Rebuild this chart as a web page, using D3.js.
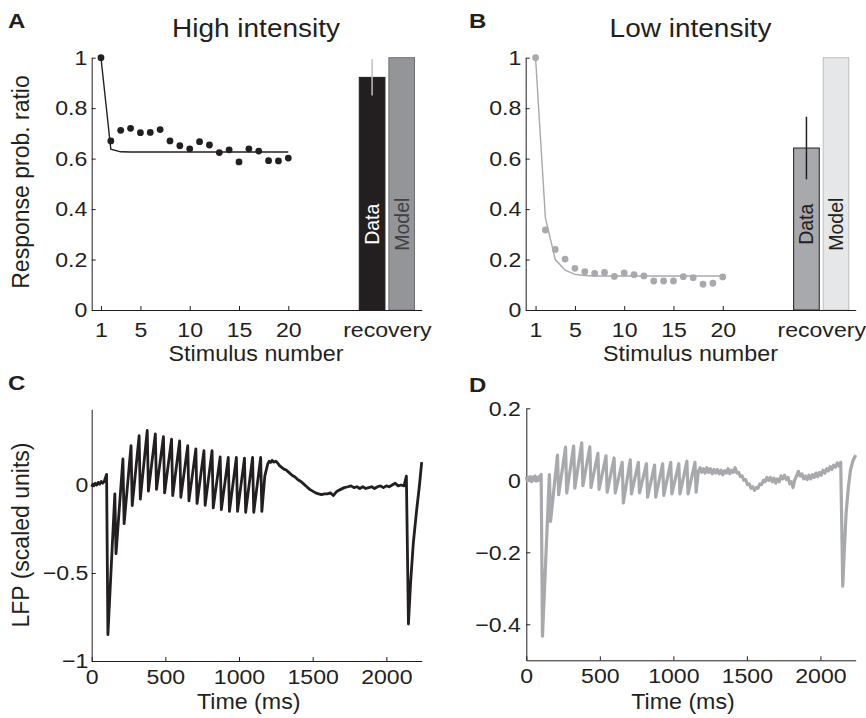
<!DOCTYPE html>
<meta charset="utf-8">
<style>
    body { margin: 0; background: #fff; }
    svg text { font-family: "Liberation Sans", Arial, sans-serif; }
</style>
<body>
<script src="https://d3js.org/d3.v7.min.js"></script>
<script>

// ---- panels A/B: response probability ratio per stimulus ----
var stimulus = [1, 2, 3, 4, 5, 6, 7, 8, 9, 10, 11, 12, 13, 14, 15, 16, 17, 18, 19, 20];
var highData = [1.0, 0.67, 0.712, 0.72, 0.703, 0.704, 0.715, 0.67, 0.651, 0.639,
                0.667, 0.654, 0.624, 0.635, 0.587, 0.639, 0.63, 0.592, 0.591, 0.602];
var highModel = [1.0, 0.637, 0.627, 0.626, 0.626, 0.626, 0.626, 0.626, 0.626, 0.626,
                 0.626, 0.626, 0.626, 0.626, 0.626, 0.626, 0.626, 0.626, 0.626, 0.626];
var lowData = [1.0, 0.317, 0.24, 0.202, 0.165, 0.152, 0.145, 0.149, 0.133, 0.147,
               0.14, 0.135, 0.115, 0.115, 0.115, 0.132, 0.128, 0.102, 0.106, 0.131];
var lowModel = [1.0, 0.365, 0.2, 0.158, 0.141, 0.137, 0.135, 0.135, 0.135, 0.135,
                0.135, 0.135, 0.135, 0.135, 0.135, 0.135, 0.135, 0.135, 0.135, 0.135];

// recovery bars: [data, model], error bar [low, high]
var barNames = ["Data", "Model"];
var highRecovery = [0.922, 1.0];
var highRecoveryErr = [0.85, 0.994];
var lowRecovery = [0.642, 1.0];
var lowRecoveryErr = [0.518, 0.766];

var ratioTicks = [0, 0.2, 0.4, 0.6, 0.8, 1];
var stimTicks = [1, 5, 10, 15, 20, 30];   // 30 = recovery slot
var stimTickLabels = ["1", "5", "10", "15", "20", "recovery"];

// ---- panels C/D: LFP traces ----
var stimTimes = [102, 157, 212, 267, 322, 377, 432, 487, 542, 597,
                 652, 707, 762, 817, 872, 927, 982, 1037, 1092, 1147];
var troughDelay = 8;

var highPre = [[0, -0.01], [8, 0.005], [15, -0.005], [25, 0.01], [35, 0.0], [45, 0.015],
               [55, 0.005], [65, 0.02], [75, 0.01], [85, 0.02], [95, 0.045], [101, 0.06]];
// value just before stimulus 2..20
var highPeaks = [-0.05, 0.148, 0.223, 0.28, 0.31, 0.29, 0.275, 0.26, 0.25, 0.223,
                 0.205, 0.195, 0.195, 0.16, 0.157, 0.157, 0.153, 0.157, 0.157];
var highTroughs = [-0.85, -0.39, -0.22, -0.117, -0.08, -0.035, -0.025, -0.045, -0.06, -0.07,
                   -0.09, -0.105, -0.115, -0.13, -0.14, -0.15, -0.15, -0.155, -0.155, -0.15];
var highPost = [[1175, 0.05], [1195, 0.12], [1205, 0.135], [1215, 0.128], [1225, 0.14], [1235, 0.13],
                [1250, 0.135], [1262, 0.125], [1275, 0.11], [1290, 0.1], [1305, 0.09], [1320, 0.085],
                [1340, 0.07], [1360, 0.055], [1380, 0.045], [1400, 0.03], [1420, 0.02], [1440, 0.005],
                [1460, -0.01], [1480, -0.025], [1500, -0.035], [1520, -0.045], [1540, -0.05],
                [1560, -0.055], [1580, -0.05], [1600, -0.05], [1620, -0.045], [1640, -0.06],
                [1665, -0.035], [1690, -0.025], [1715, -0.015], [1740, -0.01], [1760, -0.005],
                [1780, -0.015], [1800, -0.01], [1820, -0.02], [1840, -0.01], [1860, -0.02],
                [1880, -0.015], [1900, -0.01], [1920, -0.02], [1940, -0.01], [1960, -0.005],
                [1980, -0.015], [2000, -0.005], [2020, -0.01], [2040, 0.0], [2060, 0.01],
                [2080, -0.005], [2100, 0.0], [2120, -0.005], [2136, 0.05],
                [2150, -0.79], [2165, -0.55], [2183, -0.33], [2206, -0.14], [2225, 0.0], [2240, 0.13]];

var lowPre = [[0, 0.01], [6, -0.002], [12, 0.008], [20, 0.0], [28, 0.01], [36, -0.004], [44, 0.009],
              [52, 0.0], [60, 0.012], [68, -0.002], [76, 0.008], [84, 0.0], [92, 0.012], [101, 0.016]];
var lowPeaks = [0.016, 0.07, 0.092, 0.095, 0.104, 0.093, 0.075, 0.068, 0.062, 0.05,
                0.057, 0.05, 0.046, 0.042, 0.046, 0.05, 0.046, 0.053, 0.05];
var lowTroughs = [-0.433, -0.114, -0.04, -0.035, -0.022, -0.015, -0.02, -0.025, -0.033, -0.035,
                  -0.063, -0.038, -0.035, -0.047, -0.047, -0.042, -0.038, -0.038, -0.038, -0.033];
var lowPost = [[1170, 0.025], [1182, 0.035], [1192, 0.022], [1204, 0.032], [1216, 0.02], [1228, 0.035],
               [1240, 0.022], [1252, 0.032], [1264, 0.018], [1276, 0.03], [1288, 0.02], [1300, 0.03],
               [1312, 0.018], [1324, 0.028], [1336, 0.015], [1348, 0.027], [1360, 0.02], [1372, 0.032],
               [1384, 0.018], [1396, 0.028], [1408, 0.022], [1420, 0.035], [1432, 0.02], [1444, 0.022],
               [1456, 0.01], [1468, 0.012], [1480, 0.0], [1492, 0.002], [1504, -0.012], [1516, -0.01],
               [1528, -0.022], [1540, -0.018], [1552, -0.028], [1564, -0.02], [1576, -0.022],
               [1588, -0.01], [1600, -0.012], [1612, 0.0], [1624, -0.004], [1636, 0.008], [1648, 0.0],
               [1660, 0.008], [1672, -0.004], [1684, 0.006], [1696, -0.008], [1708, 0.004],
               [1720, -0.004], [1732, 0.012], [1744, 0.004], [1756, 0.014], [1768, 0.002],
               [1780, 0.008], [1792, -0.01], [1804, -0.004], [1814, -0.02], [1826, 0.002],
               [1838, 0.012], [1850, 0.025], [1862, 0.012], [1874, 0.018], [1886, 0.004],
               [1898, 0.012], [1910, 0.002], [1922, 0.014], [1934, 0.004], [1946, 0.016],
               [1958, 0.008], [1970, 0.02], [1982, 0.01], [1994, 0.022], [2006, 0.014],
               [2018, 0.028], [2030, 0.02], [2042, 0.032], [2054, 0.026], [2066, 0.038],
               [2078, 0.03], [2090, 0.042], [2102, 0.036], [2114, 0.048], [2126, 0.04], [2138, 0.05],
               [2152, -0.294], [2162, -0.2], [2175, -0.09], [2190, -0.02], [2205, 0.03],
               [2222, 0.055], [2240, 0.07]];

var timeTicks = [0, 500, 1000, 1500, 2000];
var highLfpTicks = [-1, -0.5, 0];
var lowLfpTicks = [-0.4, -0.2, 0, 0.2];

var ink = "#231f20";
var grey = "#a7a9ac";

var svg = d3.select("body").append("svg")
    .attr("width", 866)
    .attr("height", 718);

// the source figure's glyphs are a little wider than Liberation Sans, hence sx
function label(g, txt, x, y, size, sx, opts) {
    opts = opts || {};
    var t = g.append("text")
        .attr("transform", "translate(" + x + "," + y + ")" + (opts.rotate ? " rotate(-90)" : "") + " scale(" + sx + ",1)")
        .attr("text-anchor", opts.anchor || "middle")
        .attr("font-size", size)
        .attr("fill", opts.fill || ink)
        .text(txt);
    if (opts.bold) t.attr("font-weight", "bold");
    return t;
}

function styleAxis(g, size, sx) {
    g.attr("color", ink)
        .attr("font-size", size)
        .attr("font-family", "Liberation Sans, Arial, sans-serif");
    g.selectAll(".tick text").attr("transform", "scale(" + sx + ",1)");
    g.selectAll("path, line").attr("stroke-width", 1);
}

function ratioPanel(p) {
    var g = svg.append("g");
    var x = d3.scaleLinear().domain(p.xDomain).range([p.left, p.right]);
    var y = d3.scaleLinear().domain([0, 1]).range([p.bottom, p.top]);
    var half = 1.3;

    // recovery bars
    var barX = [28.5, 31.5];
    g.selectAll(".bar")
        .data(p.recovery)
        .enter().append("rect")
        .attr("x", function(d, i) { return x(barX[i] - half); })
        .attr("width", x(half * 2) - x(0))
        .attr("y", function(d) { return y(d); })
        .attr("height", function(d) { return y(0) - y(d); })
        .attr("fill", function(d, i) { return p.barFill[i]; })
        .attr("stroke", function(d, i) { return p.barStroke[i]; })
        .attr("stroke-width", 1);

    g.append("line")
        .attr("x1", x(barX[0])).attr("x2", x(barX[0]))
        .attr("y1", y(p.err[0])).attr("y2", y(p.err[1]))
        .attr("stroke", p.errColor)
        .attr("stroke-width", 1.5);

    barNames.forEach(function(name, i) {
        label(g, name, x(barX[i]) + 7, y(0.34), 19.5, 1, {rotate: true, fill: p.barText[i]});
    });

    // axes
    var yAxis = g.append("g")
        .attr("transform", "translate(" + p.left + ",0)")
        .call(d3.axisLeft(y).tickValues(ratioTicks).tickSizeInner(-4).tickSizeOuter(0)
            .tickPadding(4).tickFormat(d3.format("~g")));
    styleAxis(yAxis, 21, 1.1);

    var xAxis = g.append("g")
        .attr("transform", "translate(0," + p.bottom + ")")
        .call(d3.axisBottom(x).tickValues(stimTicks).tickSizeInner(-4).tickSizeOuter(0)
            .tickPadding(12).tickFormat(function(d, i) { return stimTickLabels[i]; }));
    styleAxis(xAxis, 21, 1.1);
    xAxis.selectAll(".tick").filter(function(d) { return d === 30; }).select("line").remove();

    // model curve and data points
    var line = d3.line()
        .x(function(d, i) { return x(stimulus[i]); })
        .y(function(d) { return y(d); });

    g.append("path")
        .datum(p.model)
        .attr("d", line)
        .attr("fill", "none")
        .attr("stroke", p.color)
        .attr("stroke-width", 1.4);

    g.selectAll(".dot")
        .data(p.data)
        .enter().append("circle")
        .attr("cx", function(d, i) { return x(stimulus[i]); })
        .attr("cy", function(d) { return y(d); })
        .attr("r", 3.4)
        .attr("fill", p.color);

    label(g, p.title, p.titleX, 37, 25, 1.12);
    label(g, "Stimulus number", p.titleX, 361, 22, 1.06);
    label(g, p.letter, p.letterX, 28, 20, 1.2, {anchor: "start", bold: true});
}

function buildTrace(pre, peaks, troughs, post) {
    var pts = pre.slice();
    stimTimes.forEach(function(ts, i) {
        if (i > 0) pts.push([ts, peaks[i - 1]]);
        pts.push([ts + troughDelay, troughs[i]]);
    });
    return pts.concat(post);
}

function lfpPanel(p) {
    var g = svg.append("g");
    var x = d3.scaleLinear().domain([0, 2240]).range([p.left, p.right]);
    var y = d3.scaleLinear().domain(p.yDomain).range([p.bottom, p.top]);

    var yAxis = g.append("g")
        .attr("transform", "translate(" + p.left + ",0)")
        .call(d3.axisLeft(y).tickValues(p.yTicks).tickSizeInner(-4).tickSizeOuter(0)
            .tickPadding(p.yPad).tickFormat(d3.format("~g")));
    styleAxis(yAxis, 21, 1.1);

    var xAxis = g.append("g")
        .attr("transform", "translate(0," + p.bottom + ")")
        .call(d3.axisBottom(x).tickValues(timeTicks).tickSizeInner(-4).tickSizeOuter(0)
            .tickPadding(8).tickFormat(d3.format("d")));
    styleAxis(xAxis, 21, 1.1);

    var line = d3.line()
        .x(function(d) { return x(d[0]); })
        .y(function(d) { return y(d[1]); });

    g.append("path")
        .datum(p.trace)
        .attr("d", line)
        .attr("fill", "none")
        .attr("stroke", p.color)
        .attr("stroke-width", p.width)
        .attr("stroke-linejoin", "round");

    label(g, "Time (ms)", (p.left + p.right) / 2 - 8, 709, 21.5, 1.08);
    label(g, p.letter, p.letterX, p.letterY, 20, 1.2, {anchor: "start", bold: true});
}

ratioPanel({
    left: 91.7, right: 421.7, top: 57.7, bottom: 310, xDomain: [0.06, 33.53],
    data: highData, model: highModel, color: ink,
    recovery: highRecovery, err: highRecoveryErr, errColor: "#bcbec0",
    barFill: [ink, "#939598"], barStroke: [ink, "#6d6e71"], barText: ["#fff", "#414042"],
    title: "High intensity", titleX: 256, letter: "A", letterX: 8
});

ratioPanel({
    left: 525.7, right: 855.7, top: 57.7, bottom: 310, xDomain: [0, 33.5],
    data: lowData, model: lowModel, color: grey,
    recovery: lowRecovery, err: lowRecoveryErr, errColor: ink,
    barFill: [grey, "#e6e7e8"], barStroke: [ink, "#bcbec0"], barText: [ink, ink],
    title: "Low intensity", titleX: 690.5, letter: "B", letterX: 469
});

lfpPanel({
    left: 91.7, right: 421.7, top: 409.3, bottom: 661, yDomain: [-1, 0.43],
    yTicks: highLfpTicks, yPad: 3,
    trace: buildTrace(highPre, highPeaks, highTroughs, highPost), color: ink, width: 2.8,
    letter: "C", letterX: 8, letterY: 390
});

lfpPanel({
    left: 526.3, right: 855.7, top: 408.3, bottom: 660.3, yDomain: [-0.5, 0.2],
    yTicks: lowLfpTicks, yPad: 5,
    trace: buildTrace(lowPre, lowPeaks, lowTroughs, lowPost), color: grey, width: 3.2,
    letter: "D", letterX: 469, letterY: 392
});

label(svg, "Response prob. ratio", 29, 182, 23, 1, {rotate: true});
label(svg, "LFP (scaled units)", 29, 535, 23, 1, {rotate: true});

</script>
</body>
